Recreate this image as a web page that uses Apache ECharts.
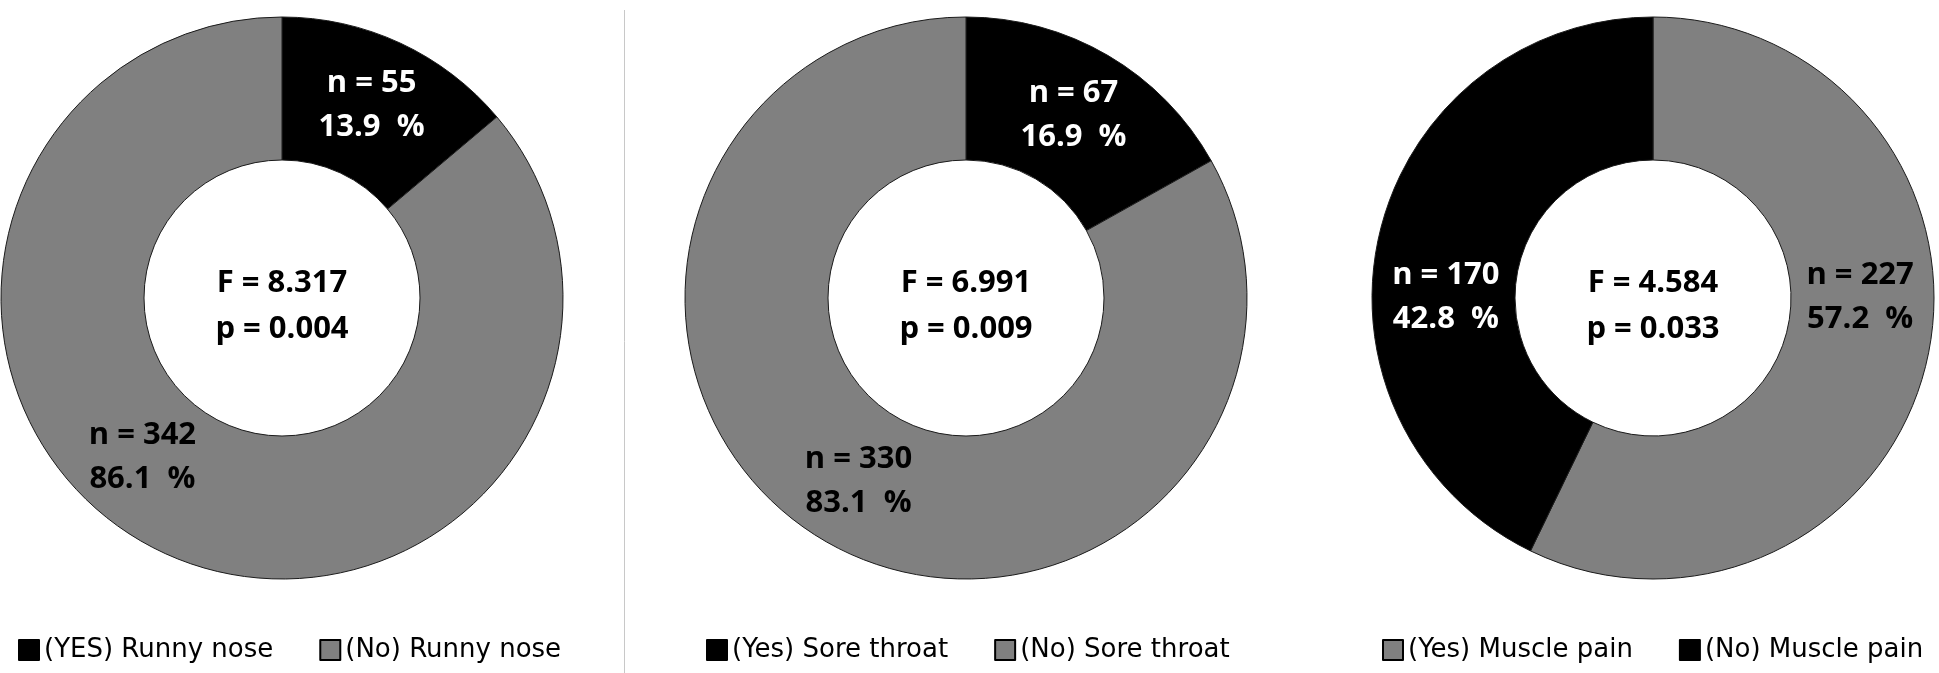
<!DOCTYPE html>
<html>
<head>
<meta charset="utf-8">
<script src="https://cdn.jsdelivr.net/npm/echarts@6/dist/echarts.min.js"></script>
<style>
  html, body { margin: 0; padding: 0; background: #fff; }
  #main { width: 1939px; height: 673px; }
</style>
</head>
<body>
<div id="main"></div>
<script>
// slices, one set of arrays per donut
const runnyNames = ['(YES) Runny nose', '(No) Runny nose'];
const runnyCounts = [55, 342];
const runnyPct = [13.9, 86.1];

const throatNames = ['(Yes) Sore throat', '(No) Sore throat'];
const throatCounts = [67, 330];
const throatPct = [16.9, 83.1];

const muscleNames = ['(Yes) Muscle pain', '(No) Muscle pain'];
const muscleCounts = [227, 170];
const musclePct = [57.2, 42.8];

// test statistics shown in the hole
const fValues = [8.317, 6.991, 4.584];
const pValues = [0.004, 0.009, 0.033];

const BLACK = '#000000';
const GRAY = '#808080';

const chart = echarts.init(document.getElementById('main'));

const labelFont = {
  fontFamily: '"Open Sans"',
  fontWeight: 'bold',
  fontSize: 31,
  lineHeight: 44
};

function buildPie(names, counts, pct, colors, center, shifts) {
  return {
    type: 'pie',
    center: center,
    radius: [138, 281],
    startAngle: 90,
    clockwise: true,
    avoidLabelOverlap: false,
    emphasis: { scale: false },
    labelLine: { show: false },
    label: Object.assign({
      show: true,
      position: 'inside',
      formatter: function (p) {
        return 'n = ' + counts[p.dataIndex] + '\n' + pct[p.dataIndex].toFixed(1) + '  %'
      }
    }, labelFont),
    // Excel had some labels dragged off the mid angle
    labelLayout: function (p) {
      const s = shifts[p.dataIndex]
      return { dx: s[0], dy: s[1] }
    },
    data: names.map(function (n, i) {
      return {
        name: n,
        value: counts[i],
        itemStyle: { color: colors[i], borderColor: '#1a1a1a', borderWidth: 1 },
        label: { color: colors[i] === BLACK ? '#ffffff' : '#000000' }
      }
    })
  }
}

function buildLegend(names, left) {
  return {
    data: names,
    left: left,
    top: 632,
    icon: 'rect',
    itemWidth: 20,
    itemHeight: 20,
    itemGap: 46,
    itemStyle: { borderColor: '#000', borderWidth: 2 },
    textStyle: {
      fontFamily: '"DejaVu Sans"',
      fontSize: 26,
      color: '#000'
    }
  }
}

function centerText(i, x) {
  return {
    type: 'text',
    x: x,
    y: 306,
    style: {
      text: 'F = ' + fValues[i].toFixed(3) + '\np = ' + pValues[i].toFixed(3),
      fill: '#000',
      fontFamily: '"Open Sans"',
      fontWeight: 'bold',
      fontSize: 31,
      lineHeight: 46,
      align: 'center',
      verticalAlign: 'middle'
    }
  }
}

chart.setOption({
  animation: false,
  legend: [
    buildLegend(runnyNames, 13),
    buildLegend(throatNames, 701),
    buildLegend(muscleNames, 1377)
  ],
  graphic: [
    {
      type: 'line',
      shape: { x1: 624.5, y1: 10, x2: 624.5, y2: 673 },
      style: { stroke: '#c8c8c8', lineWidth: 1 }
    },
    centerText(0, 282),
    centerText(1, 966),
    centerText(2, 1653)
  ],
  series: [
    buildPie(runnyNames, runnyCounts, runnyPct, [BLACK, GRAY], [282, 298], [[0, 0], [-50, -34]]),
    buildPie(throatNames, throatCounts, throatPct, [BLACK, GRAY], [966, 298], [[0, 0], [0, 0]]),
    buildPie(muscleNames, muscleCounts, musclePct, [GRAY, BLACK], [1653, 298], [[0, -48], [0, 47]])
  ]
})
</script>
</body>
</html>
